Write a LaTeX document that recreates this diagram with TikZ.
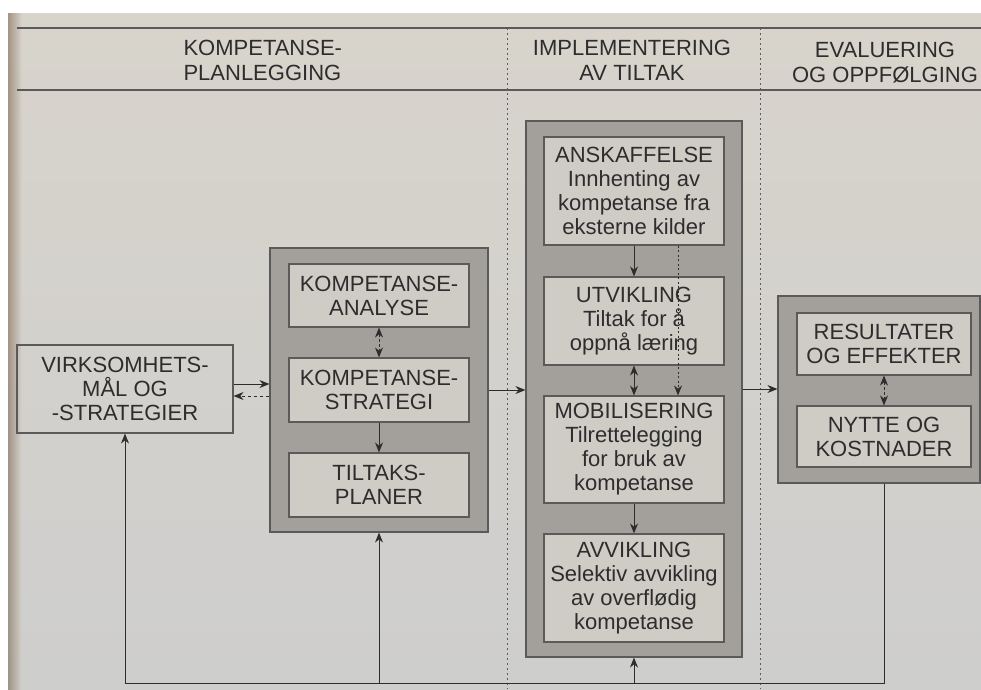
\documentclass[tikz,border=0pt]{standalone}
\usepackage{fontspec}
\setmainfont{Liberation Sans}
\usetikzlibrary{arrows.meta}

\definecolor{paper}{RGB}{216,212,204}
\definecolor{paperlow}{RGB}{206,206,205}
\definecolor{outerfill}{RGB}{163,160,156}
\definecolor{innerfill}{RGB}{207,204,198}
\definecolor{ink}{RGB}{45,45,45}
\definecolor{rule}{RGB}{90,90,90}

\tikzset{
  lbl/.style={font=\fontsize{22}{24}\selectfont, text=ink, align=center},
  outerbox/.style={draw=rule, line width=1.1pt, fill=outerfill, inner sep=0pt},
  innerbox/.style={lbl, draw=rule, line width=1.1pt, fill=innerfill, inner sep=0pt,
                   minimum width=180pt},
  plainbox/.style={lbl, draw=rule, line width=1.1pt, inner sep=0pt},
  conn/.style={draw=ink, line width=1pt, -{Stealth[length=10pt,width=8pt]}},
  twoway/.style={conn, {Stealth[length=10pt,width=8pt]}-{Stealth[length=10pt,width=8pt]}},
  headtxt/.style={font=\fontsize{22}{25}\selectfont, text=ink},
}

\begin{document}
\begin{tikzpicture}[x=1pt,y=-1pt]
  \useasboundingbox (0,0) rectangle (981,689);

  % page and binding shadow
  \fill[white] (0,0) rectangle (981,689);
  \shade[top color=paper, bottom color=paperlow] (8,13) rectangle (981,689);
  \shade[left color={rgb,255:red,140;green,122;blue,105}, right color=paper, opacity=0.7]
    (8,13) rectangle (22,689);

  % header band
  \draw[rule, line width=1.2pt] (17,28) -- (981,28);
  \draw[rule, line width=1.2pt] (17,90) -- (981,90);
  \draw[rule, line width=1pt, dash pattern=on 2pt off 3pt] (507,28) -- (507,689);
  \draw[rule, line width=1pt, dash pattern=on 2pt off 3pt] (760,28) -- (760,689);

  \node[headtxt, align=left, anchor=west] (h1) at (180,60) {KOMPETANSE-\\PLANLEGGING};
  \node[headtxt, align=center] (h2) at (632,60) {IMPLEMENTERING\\AV TILTAK};
  \node[headtxt, align=center] (h3) at (885,63) {EVALUERING\\OG OPPFØLGING};

  % goals
  \node[plainbox, minimum width=216pt, minimum height=88pt] (virk) at (125,389)
    {VIRKSOMHETS-\\MÅL OG\\-STRATEGIER};

  % competence planning
  \node[outerbox, minimum width=218pt, minimum height=284pt] (kp) at (379,390) {};
  \node[innerbox, minimum height=63pt] (analyse) at (379,295.5) {KOMPETANSE-\\ANALYSE};
  \node[innerbox, minimum height=64pt] (strategi) at (379,390) {KOMPETANSE-\\STRATEGI};
  \node[innerbox, minimum height=64pt] (tiltak) at (379,485) {TILTAKS-\\PLANER};

  % implementation
  \node[outerbox, minimum width=216pt, minimum height=536pt] (impl) at (634,389) {};
  \node[innerbox, minimum height=108pt] (ansk) at (634,191)
    {ANSKAFFELSE\\Innhenting av\\kompetanse fra\\eksterne kilder};
  \node[innerbox, minimum height=88pt] (utv) at (634,321)
    {UTVIKLING\\Tiltak for å\\oppnå læring};
  \node[innerbox, minimum height=107pt] (mob) at (634,449.5)
    {MOBILISERING\\Tilrettelegging\\for bruk av\\kompetanse};
  \node[innerbox, minimum height=108pt] (avv) at (634,588)
    {AVVIKLING\\Selektiv avvikling\\av overflødig\\kompetanse};

  % evaluation
  \node[outerbox, minimum width=202pt, minimum height=187pt] (eval) at (879,389.5) {};
  \node[innerbox, minimum width=174pt, minimum height=62pt] (res) at (884,344)
    {RESULTATER\\OG EFFEKTER};
  \node[innerbox, minimum width=174pt, minimum height=61pt] (nytte) at (884,436.5)
    {NYTTE OG\\KOSTNADER};

  % connectors between stages
  \draw[conn] ([yshift=5pt]virk.east) -- ([yshift=5pt]virk.east -| kp.west);
  \draw[conn, dashed] ([yshift=-7pt]virk.east -| kp.west) -- ([yshift=-7pt]virk.east);
  \draw[conn] (kp.east) -- (kp.east -| impl.west);
  \draw[conn] (impl.east) -- (impl.east -| eval.west);

  % connectors inside the stages
  \draw[twoway, densely dashed] (analyse.south) -- (strategi.north);
  \draw[conn] (strategi.south) -- (tiltak.north);
  \draw[conn] (ansk.south) -- (utv.north);
  \draw[twoway] (utv.south) -- (mob.north);
  \draw[conn, dash pattern=on 2pt off 2.5pt] ([xshift=44pt]ansk.south) -- ([xshift=44pt]mob.north);
  \draw[conn] (mob.south) -- (avv.north);
  \draw[twoway, densely dashed] (res.south) -- (nytte.north);

  % feedback loop along the bottom
  \coordinate (loop) at (0,683);
  \draw[conn] (res.south |- eval.south) |- (virk.south |- loop) -- (virk.south);
  \draw[conn] (kp.south |- loop) -- (kp.south);
  \draw[conn] (impl.south |- loop) -- (impl.south);
\end{tikzpicture}
\end{document}
